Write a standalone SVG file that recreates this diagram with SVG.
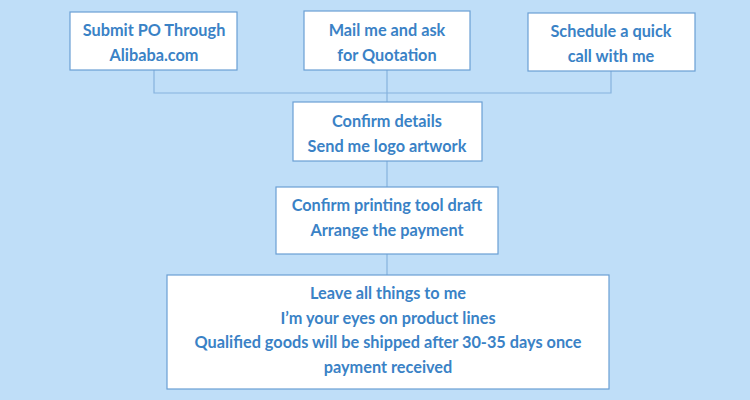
<svg xmlns="http://www.w3.org/2000/svg" width="750" height="400" viewBox="0 0 750 400">
<style>
.box{fill:#ffffff;stroke:#6a9fd4;stroke-width:1.2}
.t{font-family:Lato,"Open Sans","Liberation Sans",sans-serif;font-weight:bold;font-size:16.3px;fill:#3a82c6;text-anchor:middle;dominant-baseline:central}
.c{fill:none;stroke:#86b2de;stroke-width:1.2}
</style>
<rect width="750" height="400" fill="#bfdef8"/>
<g id="connectors">
<path class="c" d="M154 70V93H611V71"/>
<path class="c" d="M387 70V102"/>
<path class="c" d="M387 161V187"/>
<path class="c" d="M387 254V275"/>
</g>
<g id="n1"><rect class="box" x="70" y="12" width="167" height="58"/>
<text class="t" x="154" y="29.5">Submit PO Through</text><text class="t" x="154" y="54.5">Alibaba.com</text></g>
<g id="n2"><rect class="box" x="304" y="11" width="166" height="59"/>
<text class="t" x="387" y="29.5">Mail me and ask</text><text class="t" x="387" y="54.5">for Quotation</text></g>
<g id="n3"><rect class="box" x="528" y="13" width="167" height="58"/>
<text class="t" x="611" y="30.5">Schedule a quick</text><text class="t" x="611" y="55.5">call with me</text></g>
<g id="n4"><rect class="box" x="293" y="102" width="189" height="59"/>
<text class="t" x="387" y="120.5">Confirm details</text><text class="t" x="387" y="145.5">Send me logo artwork</text></g>
<g id="n5"><rect class="box" x="276" y="187" width="222" height="67"/>
<text class="t" x="387" y="204.5">Confirm printing tool draft</text><text class="t" x="387" y="229.5">Arrange the payment</text></g>
<g id="n6"><rect class="box" x="167" y="275" width="442" height="114"/>
<text class="t" x="388" y="292.5">Leave all things to me</text>
<text class="t" x="388" y="317.5">I’m your eyes on product lines</text>
<text class="t" x="388" y="341.5">Qualified goods will be shipped after 30-35 days once</text>
<text class="t" x="388" y="366.5">payment received</text></g>
</svg>
